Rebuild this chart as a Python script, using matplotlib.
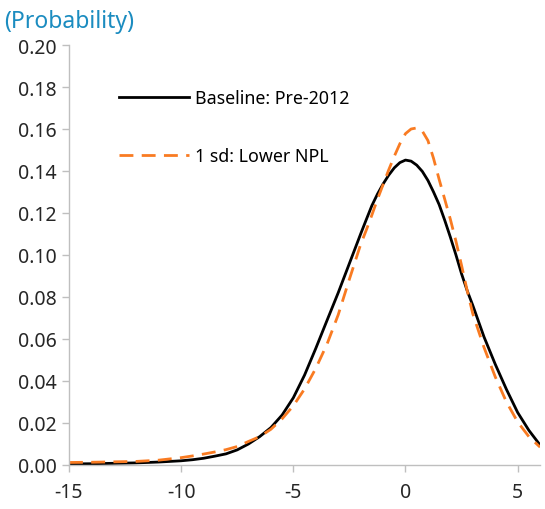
from matplotlib import pyplot as plt
from matplotlib.ticker import FormatStrFormatter

# values
x_vals = [-15, -14, -13, -12, -11, -10, -9.5, -9, -8.5, -8, -7.5, -7, -6.5, -6, -5.5,
          -5, -4.5, -4, -3.5, -3, -2.5, -2, -1.75, -1.5, -1.25, -1, -0.75, -0.5, -0.25,
          0, 0.25, 0.5, 0.75, 1, 1.25, 1.5, 1.75, 2, 2.25, 2.5, 2.75,
          3, 3.5, 4, 4.5, 5, 5.5, 6]
baseline = [0.0005, 0.0006, 0.0008, 0.0010, 0.0014, 0.0020, 0.0025, 0.0032, 0.0042, 0.0053,
            0.0072, 0.0100, 0.0135, 0.0178, 0.0238, 0.0320, 0.0428, 0.0555, 0.0688, 0.0820,
            0.0960, 0.1100, 0.1168, 0.1235, 0.1290, 0.1338, 0.1380, 0.1415, 0.1440,
            0.1452, 0.1447, 0.1428, 0.1398, 0.1355, 0.1300, 0.1240, 0.1165, 0.1085, 0.1000,
            0.0910, 0.0830, 0.0760, 0.0610, 0.0480, 0.0360, 0.0250, 0.0165, 0.0095]
lower_npl = [0.0012, 0.0013, 0.0015, 0.0017, 0.0023, 0.0035, 0.0043, 0.0052, 0.0062, 0.0073,
             0.0088, 0.0112, 0.0135, 0.0170, 0.0220, 0.0282, 0.0362, 0.0460, 0.0575, 0.0715,
             0.0885, 0.1050, 0.1118, 0.1190, 0.1265, 0.1335, 0.1405, 0.1470, 0.1530,
             0.1578, 0.1600, 0.1605, 0.1590, 0.1545, 0.1460, 0.1360, 0.1265, 0.1170, 0.1065,
             0.0950, 0.0830, 0.0720, 0.0560, 0.0420, 0.0300, 0.0205, 0.0135, 0.0085]
labels = ['Baseline: Pre-2012', '1 sd: Lower NPL']
x_ticks = [-15, -10, -5, 0, 5]
y_ticks = [0.00, 0.02, 0.04, 0.06, 0.08, 0.10, 0.12, 0.14, 0.16, 0.18, 0.20]

plt.rcParams['font.family'] = ['Noto Sans', 'DejaVu Sans']
plt.rcParams['axes.unicode_minus'] = False

fig = plt.figure(figsize=(5.45, 5.10), dpi=100)
ax = fig.add_axes([0.1266, 0.0863, 0.8644, 0.8235])

ax.plot(x_vals, baseline, color='black', lw=2.0, label=labels[0])
ax.plot(x_vals, lower_npl, color='#F97B22', lw=2.0, dashes=(5, 3), label=labels[1])

ax.set_xlim(-15, 6)
ax.set_ylim(0, 0.20)
ax.set_xticks(x_ticks)
ax.set_yticks(y_ticks)
ax.yaxis.set_major_formatter(FormatStrFormatter('%.2f'))

for side in ['top', 'right']:
    ax.spines[side].set_visible(False)
for side in ['left', 'bottom']:
    ax.spines[side].set_color('#BFBFBF')
    ax.spines[side].set_linewidth(1.0)
ax.tick_params(axis='both', colors='#BFBFBF', length=5, width=1.0,
               labelcolor='#262626', labelsize=14)
ax.tick_params(axis='x', pad=7)
ax.tick_params(axis='y', pad=4)

ax.legend(loc='upper left', bbox_to_anchor=(0.092, 0.912), frameon=False,
          fontsize=12.8, handlelength=3.9, handletextpad=0.34, labelspacing=2.25,
          borderaxespad=0)

fig.text(0.008, 0.945, '(Probability)', color='#1B8CC0', fontsize=16.5, ha='left', va='baseline')

fig.savefig('out.png', dpi=100)
